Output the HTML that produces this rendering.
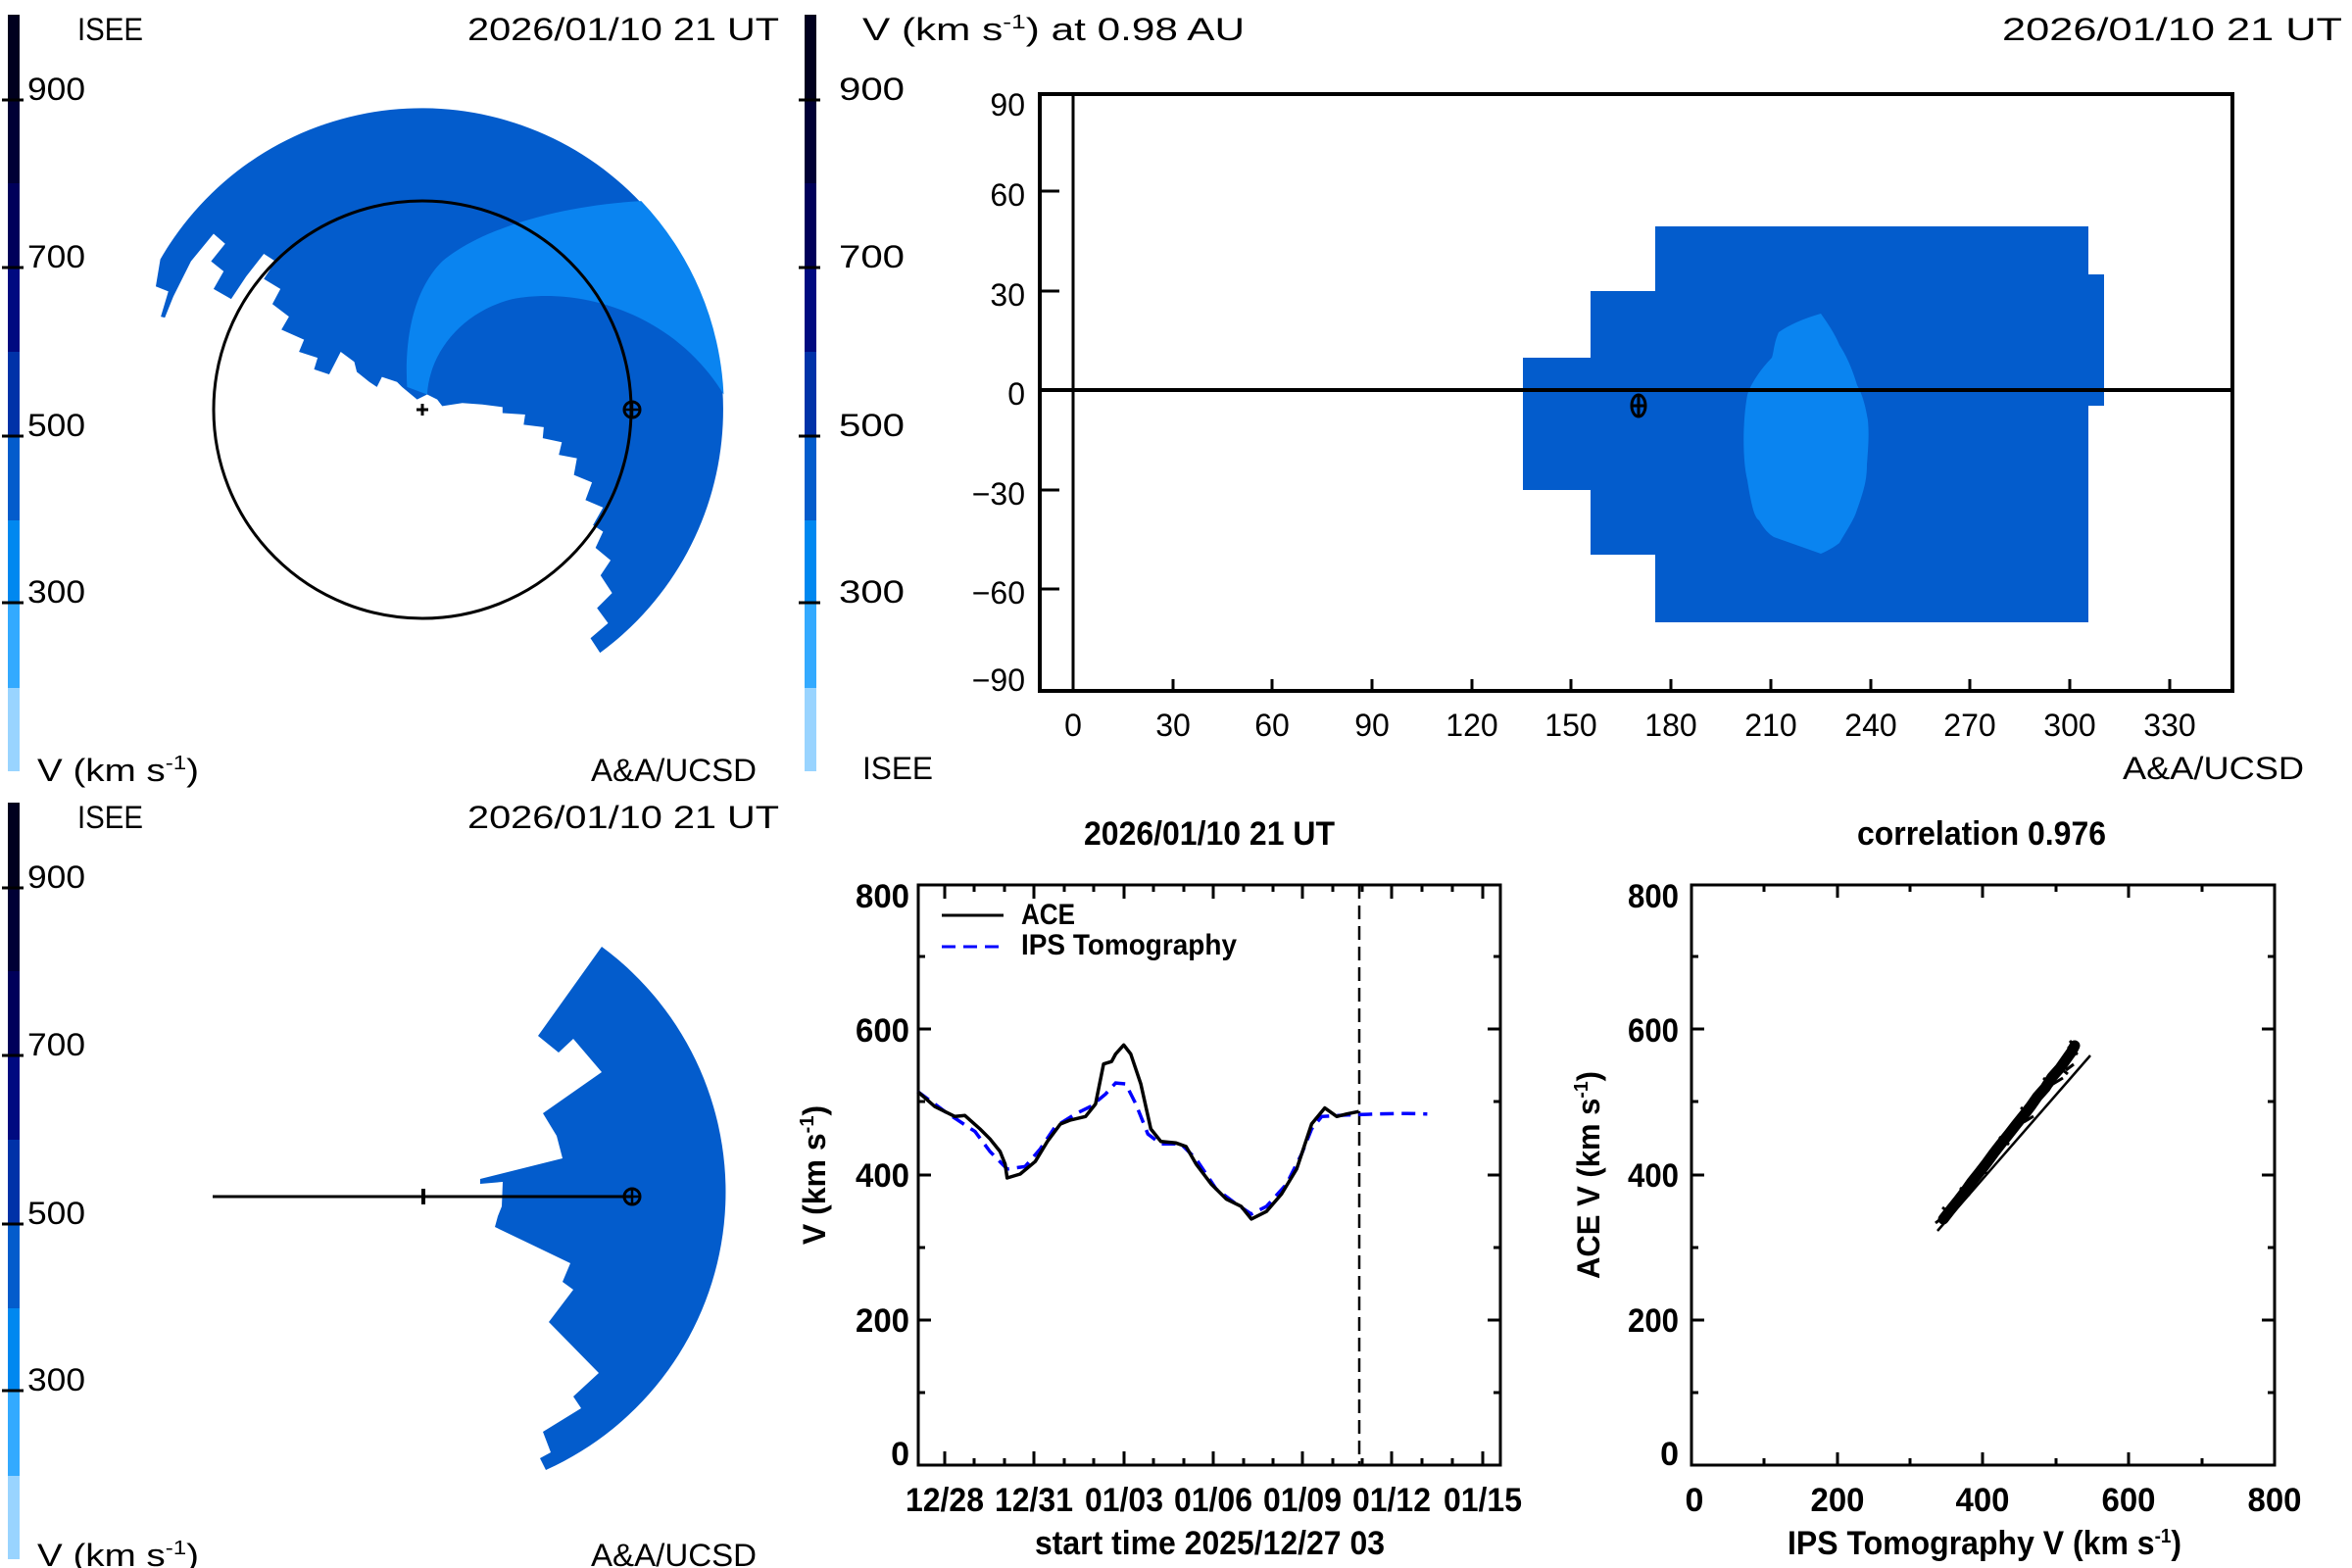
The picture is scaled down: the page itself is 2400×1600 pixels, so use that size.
<!DOCTYPE html>
<html><head><meta charset="utf-8"><style>
html,body{margin:0;padding:0;background:#fff}
svg{display:block}
.h{font-family:"Liberation Sans",sans-serif;font-size:32px;fill:#000}
.b{font-family:"Liberation Sans",sans-serif;font-weight:bold;font-size:34px;fill:#000}
</style></head><body>
<svg width="2400" height="1600" viewBox="0 0 2400 1600" xmlns="http://www.w3.org/2000/svg">
<defs>
<g id="cbar">
<rect x="8" y="15" width="12" height="87" fill="#00001e"/>
<rect x="8" y="102" width="12" height="85" fill="#000035"/>
<rect x="8" y="187" width="12" height="86" fill="#00005a"/>
<rect x="8" y="273" width="12" height="86" fill="#000a80"/>
<rect x="8" y="359" width="12" height="86" fill="#0032a8"/>
<rect x="8" y="445" width="12" height="86" fill="#035ccc"/>
<rect x="8" y="531" width="12" height="84" fill="#0088f0"/>
<rect x="8" y="615" width="12" height="87" fill="#33aaff"/>
<rect x="8" y="702" width="12" height="85" fill="#99d4ff"/>
<g stroke="#000" stroke-width="3"><line x1="2" y1="102" x2="24" y2="102"/><line x1="2" y1="273" x2="24" y2="273"/><line x1="2" y1="445" x2="24" y2="445"/><line x1="2" y1="615" x2="24" y2="615"/></g>
</g>
<g id="earth"><circle cx="0" cy="0" r="8" fill="none" stroke="#000" stroke-width="3"/><line x1="-9" y1="0" x2="9" y2="0" stroke="#000" stroke-width="2.5"/><line x1="0" y1="-9" x2="0" y2="9" stroke="#000" stroke-width="2.5"/></g>
</defs>

<!-- TOP LEFT -->
<use href="#cbar"/>
<g class="h">
<text x="28" y="102" textLength="59" lengthAdjust="spacingAndGlyphs">900</text>
<text x="28" y="273" textLength="59" lengthAdjust="spacingAndGlyphs">700</text>
<text x="28" y="445" textLength="59" lengthAdjust="spacingAndGlyphs">500</text>
<text x="28" y="615" textLength="59" lengthAdjust="spacingAndGlyphs">300</text>
<text x="79" y="41" textLength="67" lengthAdjust="spacingAndGlyphs">ISEE</text>
<text x="477" y="41" textLength="318" lengthAdjust="spacingAndGlyphs">2026/01/10 21 UT</text>
<text x="38" y="797" textLength="165" lengthAdjust="spacingAndGlyphs">V (km s<tspan font-size="20" dy="-12">-1</tspan><tspan dy="12">)</tspan></text>
<text x="603" y="797" textLength="169" lengthAdjust="spacingAndGlyphs">A&amp;A/UCSD</text>
</g>
<g transform="scale(0.5128)">
<path fill="#035ccc" d="M319,516 A600,600 0 1 1 1194,1299 L1175,1270 1210,1240 1188,1210 1218,1180 1195,1145 1215,1115 1185,1090 1200,1058 1180,1045 1200,1010 1165,995 1178,960 1142,945 1148,912 1112,905 1118,880 1080,872 1082,850 1042,845 1045,825 1000,822 1000,810 960,805 920,802 880,808 870,795 850,785 830,795 800,770 790,760 760,750 750,770 735,760 710,740 705,720 678,700 655,745 625,735 632,712 595,700 605,676 560,656 575,630 542,605 558,575 525,555 548,520 525,505 490,550 460,595 425,575 445,540 420,520 448,485 425,465 380,520 345,590 328,632 320,630 335,580 310,570 Z"/>
<path fill="#0a84f0" d="M850,785 C855,700 920,620 1020,595 C1150,570 1340,620 1440,785 A600,600 0 0 0 1276,400 C1100,410 950,460 880,520 C820,580 805,680 810,770 Z"/>
</g>
<circle cx="431" cy="418" r="213" fill="none" stroke="#000" stroke-width="3"/>
<g stroke="#000" stroke-width="3"><line x1="425" y1="418" x2="437" y2="418"/><line x1="431" y1="412" x2="431" y2="424"/></g>
<use href="#earth" x="645" y="418"/>

<!-- TOP RIGHT -->
<use href="#cbar" x="813"/>
<g class="h">
<text x="856" y="102" textLength="67" lengthAdjust="spacingAndGlyphs">900</text>
<text x="856" y="273" textLength="67" lengthAdjust="spacingAndGlyphs">700</text>
<text x="856" y="445" textLength="67" lengthAdjust="spacingAndGlyphs">500</text>
<text x="856" y="615" textLength="67" lengthAdjust="spacingAndGlyphs">300</text>
<text x="880" y="41" textLength="390" lengthAdjust="spacingAndGlyphs">V (km s<tspan font-size="20" dy="-12">-1</tspan><tspan dy="12">) at 0.98 AU</tspan></text>
<text x="2043" y="41" textLength="347" lengthAdjust="spacingAndGlyphs">2026/01/10 21 UT</text>
<text x="880" y="795" textLength="72" lengthAdjust="spacingAndGlyphs">ISEE</text>
<text x="2166" y="795" textLength="185" lengthAdjust="spacingAndGlyphs">A&amp;A/UCSD</text>
</g>
<rect x="1554" y="365" width="70" height="135" fill="#035ccc"/>
<rect x="1623" y="297" width="67" height="269" fill="#035ccc"/>
<rect x="1689" y="231" width="442" height="404" fill="#035ccc"/>
<rect x="2130" y="280" width="17" height="134" fill="#035ccc"/>
<path fill="#0a84f0" d="M1858,320 C1840,325 1825,332 1815,339 C1810,350 1810,360 1808,365 C1795,378 1785,395 1783,403 C1778,430 1778,470 1783,490 C1787,515 1790,528 1795,531 C1800,540 1805,545 1810,548 L1858,565 C1865,562 1872,558 1877,554 C1885,540 1892,530 1895,520 C1902,500 1905,490 1905,474 C1907,450 1907,440 1906,429 C1903,410 1899,400 1895,393 C1888,370 1882,360 1877,352 C1872,340 1865,330 1858,320 Z"/>
<rect x="1061" y="96" width="1217" height="609" fill="none" stroke="#000" stroke-width="4"/>
<line x1="1061" y1="398" x2="2278" y2="398" stroke="#000" stroke-width="4"/>
<line x1="1095" y1="96" x2="1095" y2="705" stroke="#000" stroke-width="3"/>
<g stroke="#000" stroke-width="3">
<line x1="1061" y1="195" x2="1081" y2="195"/><line x1="1061" y1="297" x2="1081" y2="297"/><line x1="1061" y1="500" x2="1081" y2="500"/><line x1="1061" y1="601" x2="1081" y2="601"/>
<line x1="1197" y1="705" x2="1197" y2="693"/><line x1="1298" y1="705" x2="1298" y2="693"/><line x1="1400" y1="705" x2="1400" y2="693"/><line x1="1502" y1="705" x2="1502" y2="693"/><line x1="1603" y1="705" x2="1603" y2="693"/><line x1="1705" y1="705" x2="1705" y2="693"/><line x1="1807" y1="705" x2="1807" y2="693"/><line x1="1909" y1="705" x2="1909" y2="693"/><line x1="2010" y1="705" x2="2010" y2="693"/><line x1="2112" y1="705" x2="2112" y2="693"/><line x1="2214" y1="705" x2="2214" y2="693"/>
</g>
<g class="h" font-size="33" text-anchor="end">
<text x="1046" y="118">90</text><text x="1046" y="210">60</text><text x="1046" y="312">30</text><text x="1046" y="413">0</text>
<text x="1046" y="515">−30</text><text x="1046" y="616">−60</text><text x="1046" y="705">−90</text>
</g>
<g class="h" font-size="33" text-anchor="middle">
<text x="1095" y="751">0</text><text x="1197" y="751">30</text><text x="1298" y="751">60</text><text x="1400" y="751">90</text><text x="1502" y="751">120</text><text x="1603" y="751">150</text><text x="1705" y="751">180</text><text x="1807" y="751">210</text><text x="1909" y="751">240</text><text x="2010" y="751">270</text><text x="2112" y="751">300</text><text x="2214" y="751">330</text>
</g>
<g transform="translate(1672,414)"><ellipse cx="0" cy="0" rx="7" ry="11" fill="none" stroke="#000" stroke-width="3"/><line x1="-8" y1="0" x2="8" y2="0" stroke="#000" stroke-width="3"/><line x1="0" y1="-12" x2="0" y2="12" stroke="#000" stroke-width="3"/></g>

<!-- BOTTOM LEFT -->
<use href="#cbar" y="804"/>
<g class="h">
<text x="28" y="906" textLength="59" lengthAdjust="spacingAndGlyphs">900</text>
<text x="28" y="1077" textLength="59" lengthAdjust="spacingAndGlyphs">700</text>
<text x="28" y="1249" textLength="59" lengthAdjust="spacingAndGlyphs">500</text>
<text x="28" y="1419" textLength="59" lengthAdjust="spacingAndGlyphs">300</text>
<text x="79" y="845" textLength="67" lengthAdjust="spacingAndGlyphs">ISEE</text>
<text x="477" y="845" textLength="318" lengthAdjust="spacingAndGlyphs">2026/01/10 21 UT</text>
<text x="38" y="1598" textLength="165" lengthAdjust="spacingAndGlyphs">V (km s<tspan font-size="20" dy="-12">-1</tspan><tspan dy="12">)</tspan></text>
<text x="603" y="1598" textLength="169" lengthAdjust="spacingAndGlyphs">A&amp;A/UCSD</text>
</g>
<path fill="#035ccc" d="M614,966 A311,311 0 0 1 557,1500 L551,1488 562,1482 554,1461 593,1437 585,1425 611,1401 560,1349 585,1316 574,1308 582,1289 505,1252 508,1241 512,1231 513,1206 490,1208 490,1203 574,1182 568,1159 554,1136 614,1094 585,1060 570,1074 549,1057 Z"/>
<line x1="217" y1="1221" x2="645" y2="1221" stroke="#000" stroke-width="3"/>
<line x1="432" y1="1213" x2="432" y2="1229" stroke="#000" stroke-width="4"/>
<use href="#earth" x="645" y="1221"/>

<!-- BOTTOM MIDDLE -->
<g class="b">
<text x="1106" y="862" textLength="256" lengthAdjust="spacingAndGlyphs">2026/01/10 21 UT</text>
<text x="1056" y="1586" textLength="357" lengthAdjust="spacingAndGlyphs">start time 2025/12/27 03</text>
<g text-anchor="end">
<text x="928" y="926" textLength="55" lengthAdjust="spacingAndGlyphs">800</text>
<text x="928" y="1063" textLength="55" lengthAdjust="spacingAndGlyphs">600</text>
<text x="928" y="1211" textLength="55" lengthAdjust="spacingAndGlyphs">400</text>
<text x="928" y="1359" textLength="55" lengthAdjust="spacingAndGlyphs">200</text>
<text x="928" y="1495">0</text>
</g>
<g text-anchor="middle">
<text x="964" y="1542" textLength="80" lengthAdjust="spacingAndGlyphs">12/28</text>
<text x="1055" y="1542" textLength="80" lengthAdjust="spacingAndGlyphs">12/31</text>
<text x="1147" y="1542" textLength="80" lengthAdjust="spacingAndGlyphs">01/03</text>
<text x="1238" y="1542" textLength="80" lengthAdjust="spacingAndGlyphs">01/06</text>
<text x="1329" y="1542" textLength="80" lengthAdjust="spacingAndGlyphs">01/09</text>
<text x="1420" y="1542" textLength="80" lengthAdjust="spacingAndGlyphs">01/12</text>
<text x="1513" y="1542" textLength="80" lengthAdjust="spacingAndGlyphs">01/15</text>
</g>
<text transform="translate(842,1199) rotate(-90)" text-anchor="middle" font-size="32">V (km s<tspan font-size="20" dy="-12">-1</tspan><tspan dy="12">)</tspan></text>
<text x="1042" y="943" textLength="55" lengthAdjust="spacingAndGlyphs" font-size="30">ACE</text>
<text x="1042" y="974" textLength="220" lengthAdjust="spacingAndGlyphs" font-size="30">IPS Tomography</text>
</g>
<line x1="961" y1="934" x2="1024" y2="934" stroke="#000" stroke-width="3"/>
<line x1="961" y1="966" x2="1024" y2="966" stroke="#0000ff" stroke-width="3" stroke-dasharray="14 8"/>
<rect x="937" y="903" width="594" height="592" fill="none" stroke="#000" stroke-width="3"/>
<g stroke="#000" stroke-width="3">
<line x1="937" y1="1050" x2="950" y2="1050"/><line x1="937" y1="1199" x2="950" y2="1199"/><line x1="937" y1="1347" x2="950" y2="1347"/>
<line x1="937" y1="976" x2="944" y2="976"/><line x1="937" y1="1124" x2="944" y2="1124"/><line x1="937" y1="1273" x2="944" y2="1273"/><line x1="937" y1="1421" x2="944" y2="1421"/>
<line x1="1531" y1="1050" x2="1518" y2="1050"/><line x1="1531" y1="1199" x2="1518" y2="1199"/><line x1="1531" y1="1347" x2="1518" y2="1347"/>
<line x1="1531" y1="976" x2="1524" y2="976"/><line x1="1531" y1="1124" x2="1524" y2="1124"/><line x1="1531" y1="1273" x2="1524" y2="1273"/><line x1="1531" y1="1421" x2="1524" y2="1421"/>
</g>
<g stroke="#000" stroke-width="3">
<path d="M964,1495v-14M994,1495v-7M1025,1495v-7M1055,1495v-14M1086,1495v-7M1116,1495v-7M1147,1495v-14M1177,1495v-7M1208,1495v-7M1238,1495v-14M1269,1495v-7M1299,1495v-7M1329,1495v-14M1360,1495v-7M1390,1495v-7M1420,1495v-14M1451,1495v-7M1482,1495v-7M1513,1495v-14"/>
<path d="M964,903v14M994,903v7M1025,903v7M1055,903v14M1086,903v7M1116,903v7M1147,903v14M1177,903v7M1208,903v7M1238,903v14M1269,903v7M1299,903v7M1329,903v14M1360,903v7M1390,903v7M1420,903v14M1451,903v7M1482,903v7M1513,903v14"/>
</g>
<line x1="1387" y1="903" x2="1387" y2="1495" stroke="#000" stroke-width="2.5" stroke-dasharray="14 7"/>
<polyline fill="none" stroke="#0000ff" stroke-width="3.5" stroke-dasharray="14 8" points="936.4,1113.8 964.1,1134.2 994.9,1154.6 1010.2,1175 1027.7,1192.9 1046.1,1190.3 1061.5,1172.4 1076.9,1149.5 1097.4,1136.7 1112.8,1129.1 1128.2,1116.3 1138.4,1105.1 1148.7,1106.1 1159,1126.5 1171.3,1157.1 1184.6,1167.3 1205.1,1167.3 1220.5,1182.7 1241,1213.3 1261.5,1228.6 1276.9,1238.8 1292.3,1231.1 1312.8,1208.2 1328.2,1177.5 1338.4,1152 1348.7,1139.3 1374.3,1137.8 1405.1,1136.7 1435.9,1136.2 1456.4,1136.7"/>
<polyline fill="none" stroke="#000" stroke-width="3.5" stroke-linejoin="round" points="936.4,1113.8 953.8,1129.1 974.4,1139.3 984.6,1138.3 1000,1152 1010.2,1162.2 1020.5,1175 1025.6,1187.8 1027.7,1202 1041,1198 1056.4,1185.2 1068.7,1164.8 1082,1147 1092.3,1142.9 1107.7,1139.3 1117.9,1126.5 1126.1,1085.7 1134.3,1083.2 1138.4,1075.5 1146.7,1066.3 1153.8,1075.5 1164.1,1106.1 1174.3,1152 1184.6,1164.8 1200,1166.3 1210.2,1169.9 1220.5,1187.8 1235.9,1208.2 1251.3,1223.5 1266.6,1231.1 1276.9,1243.9 1292.3,1236.2 1307.7,1218.4 1323.1,1192.9 1338.4,1146.9 1351.8,1130.6 1364.1,1139.3 1374.3,1136.7 1386.6,1134.2"/>

<!-- BOTTOM RIGHT -->
<g class="b">
<text x="1895" y="862" textLength="254" lengthAdjust="spacingAndGlyphs">correlation 0.976</text>
<text x="1824" y="1586" textLength="402" lengthAdjust="spacingAndGlyphs">IPS Tomography V (km s<tspan font-size="20" dy="-12">-1</tspan><tspan dy="12">)</tspan></text>
<g text-anchor="end">
<text x="1713" y="926" textLength="52" lengthAdjust="spacingAndGlyphs">800</text>
<text x="1713" y="1063" textLength="52" lengthAdjust="spacingAndGlyphs">600</text>
<text x="1713" y="1211" textLength="52" lengthAdjust="spacingAndGlyphs">400</text>
<text x="1713" y="1359" textLength="52" lengthAdjust="spacingAndGlyphs">200</text>
<text x="1713" y="1495">0</text>
</g>
<g text-anchor="middle">
<text x="1729" y="1542">0</text>
<text x="1875" y="1542" textLength="55" lengthAdjust="spacingAndGlyphs">200</text>
<text x="2023" y="1542" textLength="55" lengthAdjust="spacingAndGlyphs">400</text>
<text x="2172" y="1542" textLength="55" lengthAdjust="spacingAndGlyphs">600</text>
<text x="2321" y="1542" textLength="55" lengthAdjust="spacingAndGlyphs">800</text>
</g>
<text transform="translate(1632,1199) rotate(-90)" text-anchor="middle" font-size="32" textLength="212" lengthAdjust="spacingAndGlyphs">ACE V (km s<tspan font-size="20" dy="-12">-1</tspan><tspan dy="12">)</tspan></text>
</g>
<rect x="1726" y="903" width="595" height="592" fill="none" stroke="#000" stroke-width="3"/>
<g stroke="#000" stroke-width="3">
<path d="M1726,1050h13M1726,1199h13M1726,1347h13M1726,976h7M1726,1124h7M1726,1273h7M1726,1421h7"/>
<path d="M2321,1050h-13M2321,1199h-13M2321,1347h-13M2321,976h-7M2321,1124h-7M2321,1273h-7M2321,1421h-7"/>
<path d="M1875,1495v-13M2023,1495v-13M2172,1495v-13M1800,1495v-7M1949,1495v-7M2098,1495v-7M2247,1495v-7"/>
<path d="M1875,903v13M2023,903v13M2172,903v13M1800,903v7M1949,903v7M2098,903v7M2247,903v7"/>
</g>
<line x1="1977" y1="1256" x2="2133" y2="1077" stroke="#000" stroke-width="2.5"/>
<polyline fill="none" stroke="#000" stroke-width="11" stroke-linejoin="round" stroke-linecap="round" points="1983,1244 1990,1235 1998,1225 2005,1216 2012,1206 2020,1196 2027,1187 2035,1176 2042,1167 2050,1157 2057,1148 2065,1138 2072,1129 2079,1119 2087,1110 2094,1099 2102,1090 2109,1080 2114,1073 2117,1067"/>
<g stroke="#000" stroke-width="3">
<path d="M1975,1248l10,-8M1982,1232l10,8M2000,1212l10,8M2018,1190l10,8M2040,1160l10,8M2062,1130l10,8M2085,1100l10,8M2100,1088l10,8M2108,1092l8,-6M2095,1106l10,-6M2075,1122l10,-6M2110,1068l10,8M2112,1062l8,8M2065,1145l10,-6"/>
</g>
</svg>
</body></html>
